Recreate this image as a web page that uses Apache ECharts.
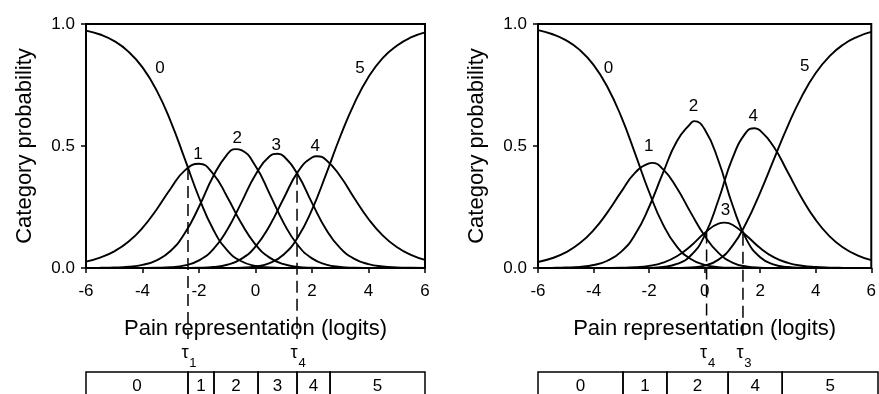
<!DOCTYPE html>
<html>
<head>
<meta charset="utf-8">
<script src="https://cdn.jsdelivr.net/npm/echarts@6/dist/echarts.min.js"></script>
<style>
  html, body { margin: 0; padding: 0; background: #fff; }
  #chart { width: 879px; height: 394px; }
</style>
</head>
<body>
<div id="chart"></div>
<script>
const FONT = '"Liberation Sans", Arial, sans-serif';

// x positions (logits) where the curves were read
const logits = [-6, -5.5, -5, -4.5, -4, -3.5, -3, -2.5, -2, -1.5, -1, -0.5, 0, 0.5, 1, 1.5, 2, 2.5, 3, 3.5, 4, 4.5, 5, 5.5, 6];

// left panel: category probability curves 0..5
const left0 = [.973, .957, .930, .887, .822, .728, .600, .446, .289, .159, .0725, .0276, .0088, .0024, .0005, .0001, 0, 0, 0, 0, 0, 0, 0, 0, 0];
const left1 = [.0263, .0427, .0683, .1075, .1644, .240, .326, .400, .427, .386, .291, .183, .0962, .0424, .0156, .0048, .0012, .0003, 0, 0, 0, 0, 0, 0, 0];
const left2 = [.0003, .0008, .002, .0052, .0131, .0315, .0706, .143, .251, .375, .466, .483, .418, .304, .184, .0933, .0395, .0142, .0044, .0012, .0003, 0, 0, 0, 0];
const left3 = [0, 0, 0, .0001, .0002, .0009, .0032, .0107, .0311, .0764, .157, .268, .382, .458, .458, .382, .267, .158, .0814, .0376, .016, .0065, .0025, .001, .0004];
const left4 = [0, 0, 0, 0, 0, 0, 0, .0002, .001, .0039, .0133, .0373, .0879, .1735, .286, .394, .453, .443, .376, .286, .201, .134, .086, .0541, .0335];
const left5 = [0, 0, 0, 0, 0, 0, 0, 0, 0, .0001, .0003, .0016, .0063, .0204, .0555, .126, .239, .385, .539, .675, .783, .860, .911, .945, .966];
// peaks (null = peak already at a sample / no peak)
const leftPeakX = [null, null, -0.7, 0.78, 2.17, null];
const leftPeakY = [null, null, .487, .468, .458, null];

// right panel (disordered thresholds)
const right0 = [.975, .959, .934, .894, .8325, .742, .619, .468, .3115, .1786, .0876, .0368, .0130, .0037, .0008, .0001, 0, 0, 0, 0, 0, 0, 0, 0, 0];
const right1 = [.0246, .0399, .0641, .101, .155, .228, .313, .391, .429, .405, .328, .227, .132, .0618, .0222, .0061, .0014, .0003, 0, 0, 0, 0, 0, 0, 0];
const right2 = [.0003, .0007, .0019, .0048, .0122, .0297, .0672, .138, .250, .3895, .5195, .593, .5686, .4386, .2593, .1182, .044, .0142, .0041, .0011, .0003, 0, 0, 0, 0];
const right3 = [0, 0, 0, 0, .0001, .0002, .0008, .0029, .0085, .0219, .0481, .0904, .143, .182, .1774, .1333, .0818, .0435, .0209, .0093, .0039, .0015, .0006, .0002, .0001];
const right4 = [0, 0, 0, 0, 0, 0, 0, .0002, .0011, .0046, .0165, .0511, .1334, .2797, .4495, .5569, .5635, .4945, .3913, .2861, .197, .1299, .0831, .0521, .0323];
const right5 = [0, 0, 0, 0, 0, 0, 0, 0, 0, .0001, .0005, .0023, .0099, .0343, .0908, .1854, .3093, .4475, .5837, .7036, .7989, .8685, .9163, .9477, .9676];
const rightPeakX = [null, -1.9, -0.38, 0.72, 1.8, null];
const rightPeakY = [null, .431, .602, .186, .573, null];

// curve labels
const curveNames = ['0', '1', '2', '3', '4', '5'];
const leftLabelX = [-3.38, -2.04, -0.65, 0.73, 2.11, 3.70];
const leftLabelY = [0.82, 0.467, 0.533, 0.504, 0.50, 0.82];
const rightLabelX = [-3.46, -2.01, -0.40, 0.75, 1.75, 3.60];
const rightLabelY = [0.82, 0.497, 0.664, 0.238, 0.623, 0.825];

// thresholds marked with dashed lines
const leftTau = [-2.39, 1.47];
const leftTauHeight = [0.41, 0.39];
const leftTauSub = ['1', '4'];
const rightTau = [0.07, 1.38];
const rightTauHeight = [0.15, 0.14];
const rightTauSub = ['4', '3'];

// category strips below each panel
const leftBoxEdges = [-6, -2.39, -1.47, 0.09, 1.47, 2.64, 6];
const leftBoxCats = ['0', '1', '2', '3', '4', '5'];
const rightBoxEdges = [-6, -3.0, -1.45, 0.71, 2.62, 6];
const rightBoxCats = ['0', '1', '2', '4', '5'];

const leftCurves = [left0, left1, left2, left3, left4, left5];
const rightCurves = [right0, right1, right2, right3, right4, right5];

const chart = echarts.init(document.getElementById('chart'));

function curveSeries(curves, peakX, peakY, idx) {
  return curves.map((arr, k) => {
    const pts = arr.map((v, i) => [logits[i], v]);
    if (peakX[k] != null) {
      pts.push([peakX[k], peakY[k]]);
      pts.sort((a, b) => a[0] - b[0]);
    }
    return {
      type: 'line', xAxisIndex: idx, yAxisIndex: idx, name: 'c' + idx + '_' + k,
      data: pts, smooth: true, symbol: 'none', silent: true,
      lineStyle: { color: '#000', width: 1.9 }
    };
  });
}

function labelSeries(xs, ys, idx) {
  return {
    type: 'custom', xAxisIndex: idx, yAxisIndex: idx, silent: true,
    data: xs.map((x, i) => [x, ys[i]]),
    renderItem(params, api) {
      const p = api.coord([api.value(0), api.value(1)]);
      return {
        type: 'text', x: p[0], y: p[1],
        style: { text: curveNames[params.dataIndex], fill: '#000', font: '17px ' + FONT, align: 'center', verticalAlign: 'middle' }
      };
    }
  };
}

function tauSeries(taus, heights, subs, idx) {
  return {
    type: 'custom', xAxisIndex: idx, yAxisIndex: idx, silent: true, clip: false, z: 5,
    data: taus.map((t, i) => [t, heights[i]]),
    renderItem(params, api) {
      const p = api.coord([api.value(0), api.value(1)]);
      const base = api.coord([api.value(0), 0]);
      return {
        type: 'group',
        children: [
          { type: 'line', shape: { x1: p[0], y1: p[1], x2: p[0], y2: base[1] + 71 },
            style: { stroke: '#000', lineWidth: 1.5, lineDash: [12, 6] } },
          { type: 'text', x: p[0] - 3, y: base[1] + 85,
            style: { text: 'τ', fill: '#000', font: '18px ' + FONT, align: 'center', verticalAlign: 'middle' } },
          { type: 'text', x: p[0] + 5, y: base[1] + 95,
            style: { text: subs[params.dataIndex], fill: '#000', font: '13px ' + FONT, align: 'center', verticalAlign: 'middle' } }
        ]
      };
    }
  };
}

function boxSeries(edges, cats, idx) {
  return {
    type: 'custom', xAxisIndex: idx, yAxisIndex: idx, silent: true, clip: false,
    data: cats.map((c, i) => [edges[i], edges[i + 1]]),
    renderItem(params, api) {
      const a = api.coord([api.value(0), 1]);
      const b = api.coord([api.value(1), 1]);
      return {
        type: 'group',
        children: [
          { type: 'rect', shape: { x: a[0], y: a[1], width: b[0] - a[0], height: 40 },
            style: { fill: 'none', stroke: '#000', lineWidth: 1.5 } },
          { type: 'text', x: (a[0] + b[0]) / 2, y: a[1] + 14,
            style: { text: cats[params.dataIndex], fill: '#000', font: '17px ' + FONT, align: 'center', verticalAlign: 'middle' } }
        ]
      };
    }
  };
}

const mainX = gi => ({
  type: 'value', gridIndex: gi, min: -6, max: 6, interval: 2,
  name: 'Pain representation (logits)', nameLocation: 'middle', nameGap: 50,
  nameTextStyle: { fontSize: 22, color: '#000', fontFamily: FONT },
  axisLine: { onZero: false, lineStyle: { color: '#000', width: 2 } },
  axisTick: { length: 5, lineStyle: { color: '#000', width: 1.5 } },
  axisLabel: { fontSize: 17, color: '#000', margin: 15, fontFamily: FONT },
  splitLine: { show: false }
});
const mainY = gi => ({
  type: 'value', gridIndex: gi, min: 0, max: 1, interval: 0.5,
  name: 'Category probability', nameLocation: 'middle', nameGap: 50,
  nameTextStyle: { fontSize: 22, color: '#000', fontFamily: FONT },
  axisLine: { show: true, onZero: false, lineStyle: { color: '#000', width: 2 } },
  axisTick: { show: true, length: 5, lineStyle: { color: '#000', width: 1.5 } },
  axisLabel: { fontSize: 17, color: '#000', margin: 11, fontFamily: FONT, formatter: v => v.toFixed(1) },
  splitLine: { show: false }
});
const stripX = gi => ({ type: 'value', gridIndex: gi, min: -6, max: 6, show: false });
const stripY = gi => ({ type: 'value', gridIndex: gi, min: 0, max: 1, show: false });

chart.setOption({
  animation: false,
  backgroundColor: '#fff',
  textStyle: { fontFamily: FONT },
  grid: [
    { left: 86, top: 24, width: 339, height: 244, show: true, borderColor: '#000', borderWidth: 2, backgroundColor: 'transparent' },
    { left: 538, top: 24, width: 340, height: 244, show: true, borderColor: '#000', borderWidth: 2, backgroundColor: 'transparent' },
    { left: 86, top: 372, width: 339, height: 20 },
    { left: 538, top: 372, width: 340, height: 20 }
  ],
  xAxis: [mainX(0), mainX(1), stripX(2), stripX(3)],
  yAxis: [mainY(0), mainY(1), stripY(2), stripY(3)],
  series: [
    ...curveSeries(leftCurves, leftPeakX, leftPeakY, 0),
    ...curveSeries(rightCurves, rightPeakX, rightPeakY, 1),
    labelSeries(leftLabelX, leftLabelY, 0),
    labelSeries(rightLabelX, rightLabelY, 1),
    tauSeries(leftTau, leftTauHeight, leftTauSub, 0),
    tauSeries(rightTau, rightTauHeight, rightTauSub, 1),
    boxSeries(leftBoxEdges, leftBoxCats, 2),
    boxSeries(rightBoxEdges, rightBoxCats, 3)
  ]
});
</script>
</body>
</html>
